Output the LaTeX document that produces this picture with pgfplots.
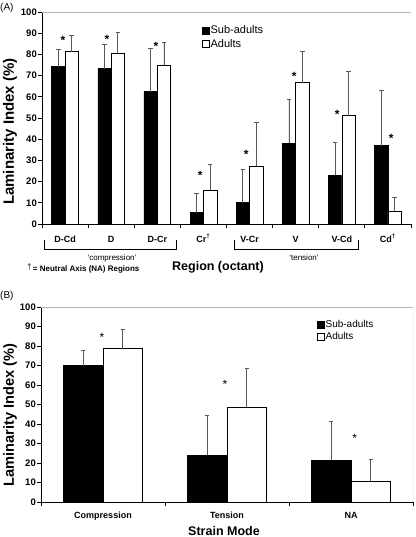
\documentclass[border=0pt]{standalone}
\usepackage{fontspec}
\setmainfont{Liberation Sans}
\usepackage{pgfplots}
\pgfplotsset{compat=1.18}
\usepackage{pgfplotstable}

\pgfplotstableread{
x y e
0 74.2 8.2
1 73.3 11.3
2 62.4 20.5
3 5.4 8.9
4 10.0 15.6
5 38.1 20.7
6 23.0 15.5
7 36.9 26.0
}\subA
\pgfplotstableread{
x y e
0 81.3 7.5
1 80.5 9.6
2 74.8 10.7
3 16.1 12.1
4 27.4 20.6
5 66.7 14.9
6 51.1 20.9
7 5.9 6.7
}\adA
\pgfplotstableread{
x y e
0 69.9 7.7
1 24.0 20.5
2 21.4 19.9
}\subB
\pgfplotstableread{
x y e
0 78.6 9.8
1 48.6 19.9
2 10.6 11.1
}\adB

\pgfplotsset{
  common/.style={
    scale only axis,
    ymin=0, ymax=100,
    ybar=0pt,
    axis lines*=left,
    axis line style={black, line width=0.8bp},
    tick align=outside,
    major tick length=4bp,
    tick style={black, line width=0.8bp},
    ytick={0,10,...,100},
    ytick pos=left,
    xtick pos=bottom,
    xticklabels={},
    /pgf/number format/assume math mode=true,
    yticklabel style={font=\fontsize{9.5bp}{11bp}\selectfont\bfseries, inner sep=1bp},
    legend cell align=left,
    legend style={draw=none, fill=none, inner sep=0pt, outer sep=0pt,
      nodes={inner sep=1bp}},
  },
  sqleg/.style={legend image code/.code={\draw[##1,line width=0.6bp] (0bp,-3.5bp) rectangle (7bp,3.5bp);}},
  errs/.style={error bars/.cd, y dir=plus, y explicit, error mark=|,
      error bar style={black!65, line width=0.8bp},
      error mark options={black!65, mark size=2.3bp, line width=1bp}},
}

\begin{document}
\begin{tikzpicture}
\path[use as bounding box] (0,0) rectangle (416bp,537bp);

% ---------- (A) ----------
\begin{axis}[common,
  at={(42bp,313bp)}, anchor=south west,
  width=369bp, height=212bp,
  xmin=-0.5, xmax=7.5,
  bar width=0.29,
  xtick={-0.5,0.5,...,7.5},
  extra x ticks={0,1,2,3,4,5,6,7},
  extra x tick labels={D-Cd,D,D-Cr,Cr\textsuperscript{†},V-Cr,V,V-Cd,Cd\textsuperscript{†}},
  extra x tick style={major tick length=0pt,
    tick label style={anchor=base, yshift=-18.5bp, font=\fontsize{9bp}{10bp}\selectfont\bfseries}},
  ylabel={Laminarity Index (\%)},
  ylabel style={at={(axis description cs:-0.0867,0.436)}, anchor=center, rotate=0,
    font=\fontsize{15bp}{16bp}\selectfont\bfseries},
  legend style={at={(axis description cs:0.4336,0.94)}, anchor=north west,
    font=\fontsize{11bp}{12bp}\selectfont, row sep=2bp},
]
\addplot[fill=black, draw=black, line width=0.6bp, sqleg, errs]
  table[x=x, y=y, y error=e] {\subA};
\addplot[fill=white, draw=black, line width=0.6bp, sqleg, errs]
  table[x=x, y=y, y error=e] {\adA};
\legend{Sub-adults, Adults}
\draw[gray!60, line width=0.8bp] (axis description cs:0,1) -- (axis description cs:1,1) -- (axis description cs:1,0);
\begin{scope}[every node/.style={font=\fontsize{12bp}{12bp}\selectfont\bfseries, anchor=base, yshift=-6.5bp, inner sep=0pt}]
\node at (axis cs:-0.045,87.7) {*};
\node at (axis cs:0.91,88) {*};
\node at (axis cs:1.97,85) {*};
\node at (axis cs:2.93,24) {*};
\node at (axis cs:3.93,34) {*};
\node at (axis cs:4.97,70.7) {*};
\node at (axis cs:5.90,53) {*};
\node at (axis cs:7.07,41.5) {*};
\end{scope}
\end{axis}

% ---------- (B) ----------
\begin{axis}[common,
  at={(41bp,35bp)}, anchor=south west,
  width=372bp, height=195bp,
  xmin=-0.5, xmax=2.5,
  bar width=0.32,
  xtick={-0.5,0.5,1.5,2.5},
  extra x ticks={0,1,2},
  extra x tick labels={Compression,Tension,NA},
  extra x tick style={major tick length=0pt,
    tick label style={anchor=base, yshift=-16bp, font=\fontsize{9bp}{10bp}\selectfont\bfseries}},
  ylabel={Laminarity Index (\%)},
  ylabel style={at={(axis description cs:-0.0833,0.446)}, anchor=center, rotate=0,
    font=\fontsize{14.6bp}{16bp}\selectfont\bfseries},
  legend style={at={(axis description cs:0.742,0.938)}, anchor=north west,
    font=\fontsize{10bp}{11bp}\selectfont, row sep=1.5bp},
]
\addplot[fill=black, draw=black, line width=0.6bp, sqleg, errs]
  table[x=x, y=y, y error=e] {\subB};
\addplot[fill=white, draw=black, line width=0.6bp, sqleg, errs]
  table[x=x, y=y, y error=e] {\adB};
\legend{Sub-adults, Adults}
\draw[gray!60, line width=0.8bp] (axis description cs:0,1) -- (axis description cs:1,1) -- (axis description cs:1,0);
\begin{scope}[every node/.style={font=\fontsize{12bp}{12bp}\selectfont, anchor=base, yshift=-6.5bp, inner sep=0pt}]
\node at (axis cs:-0.008,85.8) {*};
\node at (axis cs:0.984,61.5) {*};
\node at (axis cs:2.03,34) {*};
\end{scope}
\end{axis}

% ---------- annotations ----------
\node[anchor=west, inner sep=0pt, font=\fontsize{10bp}{11bp}\selectfont] at (0bp,529.5bp) {(A)};
\node[anchor=west, inner sep=0pt, font=\fontsize{10bp}{11bp}\selectfont] at (0bp,241bp) {(B)};
\draw[line width=0.7bp] (44.3bp,297bp) -- (44.3bp,288bp) -- (176.7bp,288bp) -- (176.7bp,297bp);
\draw[line width=0.7bp] (234.3bp,297bp) -- (234.3bp,288bp) -- (358.3bp,288bp) -- (358.3bp,297bp);
\node[font=\fontsize{8bp}{9bp}\selectfont, inner sep=0pt] at (112bp,279bp) {`compression'};
\node[font=\fontsize{8bp}{9bp}\selectfont, inner sep=0pt] at (304bp,279bp) {`tension'};
\node[font=\fontsize{12.5bp}{13bp}\selectfont\bfseries, inner sep=0pt] at (218bp,270bp) {Region (octant)};
\node[anchor=base west, inner sep=0pt, font=\fontsize{8bp}{9bp}\selectfont\bfseries] at (27bp,265bp) {\raisebox{2.5bp}{\mdseries †}\,= Neutral Axis (NA) Regions};
\node[font=\fontsize{12.5bp}{13bp}\selectfont\bfseries, inner sep=0pt] at (224bp,6bp) {Strain Mode};
\end{tikzpicture}
\end{document}
